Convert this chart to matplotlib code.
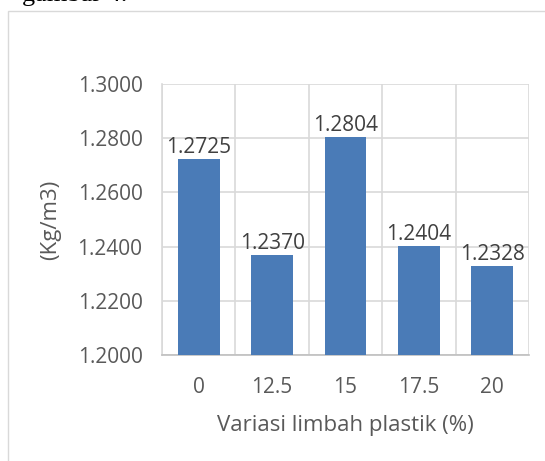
import matplotlib
matplotlib.use("Agg")
import matplotlib.pyplot as plt
from matplotlib.patches import Rectangle

categories = ["0", "12.5", "15", "17.5", "20"]
values = [1.2725, 1.2370, 1.2804, 1.2404, 1.2328]
value_labels = ["1.2725", "1.2370", "1.2804", "1.2404", "1.2328"]
yticks = [1.20, 1.22, 1.24, 1.26, 1.28, 1.30]

plt.rcParams['font.family'] = ['Open Sans', 'DejaVu Sans']

W, H = 545, 461
fig = plt.figure(figsize=(W / 100, H / 100), dpi=100)

# outer frame
fig.patches.append(Rectangle((8 / W, -0.01), 1.1, (H - 11) / H + 0.01, transform=fig.transFigure,
                             fill=False, edgecolor='#d9d9d9', linewidth=1.0))
fig.text(22 / W, 1.0 - 6 / H, "gambar 4.", family='Liberation Serif', fontsize=19,
         va='bottom', ha='left', color='black')

left, right, top, bottom = 162, 529, 84, 355
ax = fig.add_axes([left / W, 1 - bottom / H, (right - left) / W, (bottom - top) / H])

x = range(len(categories))
ax.bar(x, [v - 1.2 for v in values], bottom=1.2, width=0.57, color='#4a7bb7', zorder=3)
for i, (v, lab) in enumerate(zip(values, value_labels)):
    ax.text(i, v + 0.0003, lab, ha='center', va='bottom', fontsize=15, color='#404040', zorder=4)

ax.set_xlim(-0.5, len(categories) - 0.5)
ax.set_ylim(1.2, 1.3)
ax.set_yticks(yticks)
ax.set_yticklabels([f"{t:.4f}" for t in yticks])
ax.set_xticks(list(x))
ax.set_xticklabels(categories)
ax.set_xticks([i + 0.5 for i in range(-1, len(categories))], minor=True)
ax.tick_params(axis='both', which='both', length=0, labelsize=15, labelcolor='#595959')
ax.tick_params(axis='y', pad=14)
ax.tick_params(axis='x', pad=16)
ax.grid(True, axis='y', which='major', color='#d9d9d9', linewidth=1.2, zorder=0)
ax.grid(True, axis='x', which='minor', color='#d9d9d9', linewidth=1.2, zorder=0)
for s in ['top', 'right']:
    ax.spines[s].set_visible(False)
ax.spines['left'].set_color('#d9d9d9')
ax.spines['left'].set_linewidth(1.2)
ax.spines['bottom'].set_color('#bfbfbf')
ax.spines['bottom'].set_linewidth(1.2)

ax.set_xlabel("Variasi limbah plastik (%)", fontsize=16, color='#595959', labelpad=12)
ax.set_ylabel("(Kg/m3)", fontsize=16, color='#595959', labelpad=12)

fig.savefig("out.png", dpi=100)
